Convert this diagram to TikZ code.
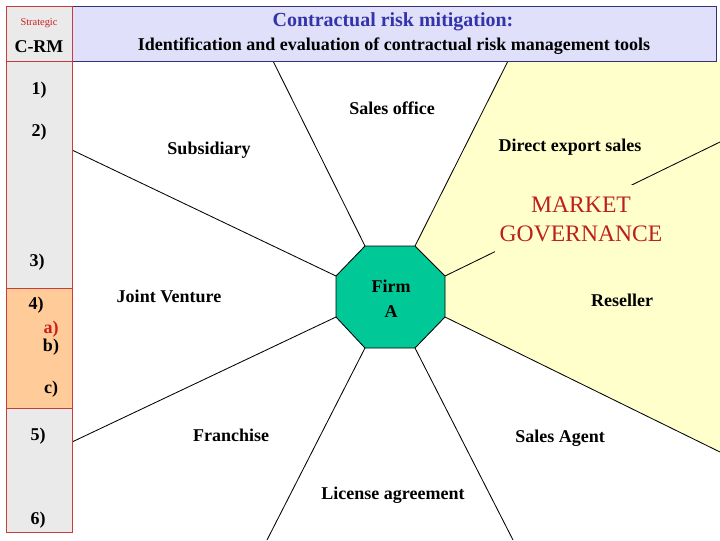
\documentclass[tikz,border=0pt]{standalone}
\usepackage{fontspec}
\setmainfont{Liberation Serif}
\definecolor{hdrfill}{RGB}{224,224,250}
\definecolor{hdrline}{RGB}{51,51,120}
\definecolor{titleblue}{RGB}{51,51,170}
\definecolor{sidegray}{RGB}{234,234,234}
\definecolor{sideline}{RGB}{200,60,60}
\definecolor{sideorange}{RGB}{255,204,153}
\definecolor{mktyellow}{RGB}{255,255,204}
\definecolor{firmgreen}{RGB}{0,200,150}
\definecolor{redtext}{RGB}{200,30,30}
\definecolor{mktred}{RGB}{190,30,30}
\begin{document}
\begin{tikzpicture}[x=0.025cm,y=-0.025cm,
  lbl/.style={font=\fontsize{12.8}{15}\selectfont\bfseries, inner sep=0pt, text=black},
  sidelbl/.style={lbl},
  spoke/.style={draw=black, line width=0.6pt},
  sidebox/.style={fill=sidegray, draw=sideline, line width=0.7pt},
  orangebox/.style={fill=sideorange, draw=sideline, line width=0.7pt},
  hdrbox/.style={fill=hdrfill, draw=hdrline, line width=0.7pt}]
\useasboundingbox (0,0) rectangle (720,540);
\fill[white] (0,0) rectangle (720,540);
% octagon corners
\coordinate (o1) at (365,246);
\coordinate (o2) at (415,246);
\coordinate (o3) at (445,276);
\coordinate (o4) at (445,317);
\coordinate (o5) at (415,348);
\coordinate (o6) at (365,348);
\coordinate (o7) at (336,317);
\coordinate (o8) at (336,276);
% free ends of spokes
\coordinate (e1) at (273,61);
\coordinate (e2) at (508,61);
\coordinate (e3) at (720,142);
\coordinate (e4) at (720,452);
\coordinate (e5) at (513,540);
\coordinate (e6) at (267,540);
\coordinate (e7) at (72,442);
\coordinate (e8) at (72,150);
% market governance area
\fill[mktyellow] (o2) -- (e2) -- (720,61) -- (e4) -- (o4) -- (o3) -- cycle;
% spokes
\foreach \i in {1,...,8} { \draw[spoke] (o\i) -- (e\i); }
% octagon
\filldraw[fill=firmgreen, draw=black, line width=0.6pt] (o1) -- (o2) -- (o3) -- (o4) -- (o5) -- (o6) -- (o7) -- (o8) -- cycle;
\node[lbl, align=center, font=\fontsize{12.8}{17.7}\selectfont\bfseries] (firm) at (391,299) {Firm\\A};
% header
\filldraw[hdrbox] (72,6) rectangle (716,61);
\filldraw[sidebox] (6,6) rectangle (72,61);
\node[lbl, text=titleblue, font=\fontsize{14.2}{17}\selectfont\bfseries] (title) at (393,22) {Contractual risk mitigation:};
\node[lbl] (subtitle) at (394,46) {Identification and evaluation of contractual risk management tools};
\node[inner sep=0pt, text=redtext, font=\fontsize{7.4}{9}\selectfont] (strat) at (39,23) {Strategic};
\node[sidelbl] (crm) at (39,47) {C-RM};
% sidebar
\filldraw[sidebox] (6,61) rectangle (72,288);
\filldraw[orangebox] (6,288) rectangle (72,408);
\filldraw[sidebox] (6,408) rectangle (72,532);
\node[sidelbl] (s1) at (39,90) {1)};
\node[sidelbl] (s2) at (39,132) {2)};
\node[sidelbl] (s3) at (37,262) {3)};
\node[sidelbl] (s4) at (36,305) {4)};
\node[sidelbl, text=redtext] (sa) at (51,329) {a)};
\node[sidelbl] (sb) at (51,347) {b)};
\node[sidelbl] (sc) at (51,389) {c)};
\node[sidelbl] (s5) at (38,436) {5)};
\node[sidelbl] (s6) at (38,520) {6)};
% labels
\node[lbl] (salesoffice) at (392,108) {Sales office};
\node[lbl] (subsidiary) at (209,150) {Subsidiary};
\node[lbl] (direct) at (570,147) {Direct export sales};
\node[fill=mktyellow, inner xsep=3pt, inner ysep=8pt, align=center, text=mktred, font=\fontsize{16.8}{20.5}\selectfont] (market) at (581,219) {MARKET\\GOVERNANCE};
\node[lbl] (jv) at (169,296) {Joint Venture};
\node[lbl] (reseller) at (622,300) {Reseller};
\node[lbl] (franchise) at (231,435) {Franchise};
\node[lbl] (agent) at (560,438) {Sales Agent};
\node[lbl] (license) at (393,495) {License agreement};
\end{tikzpicture}
\end{document}
